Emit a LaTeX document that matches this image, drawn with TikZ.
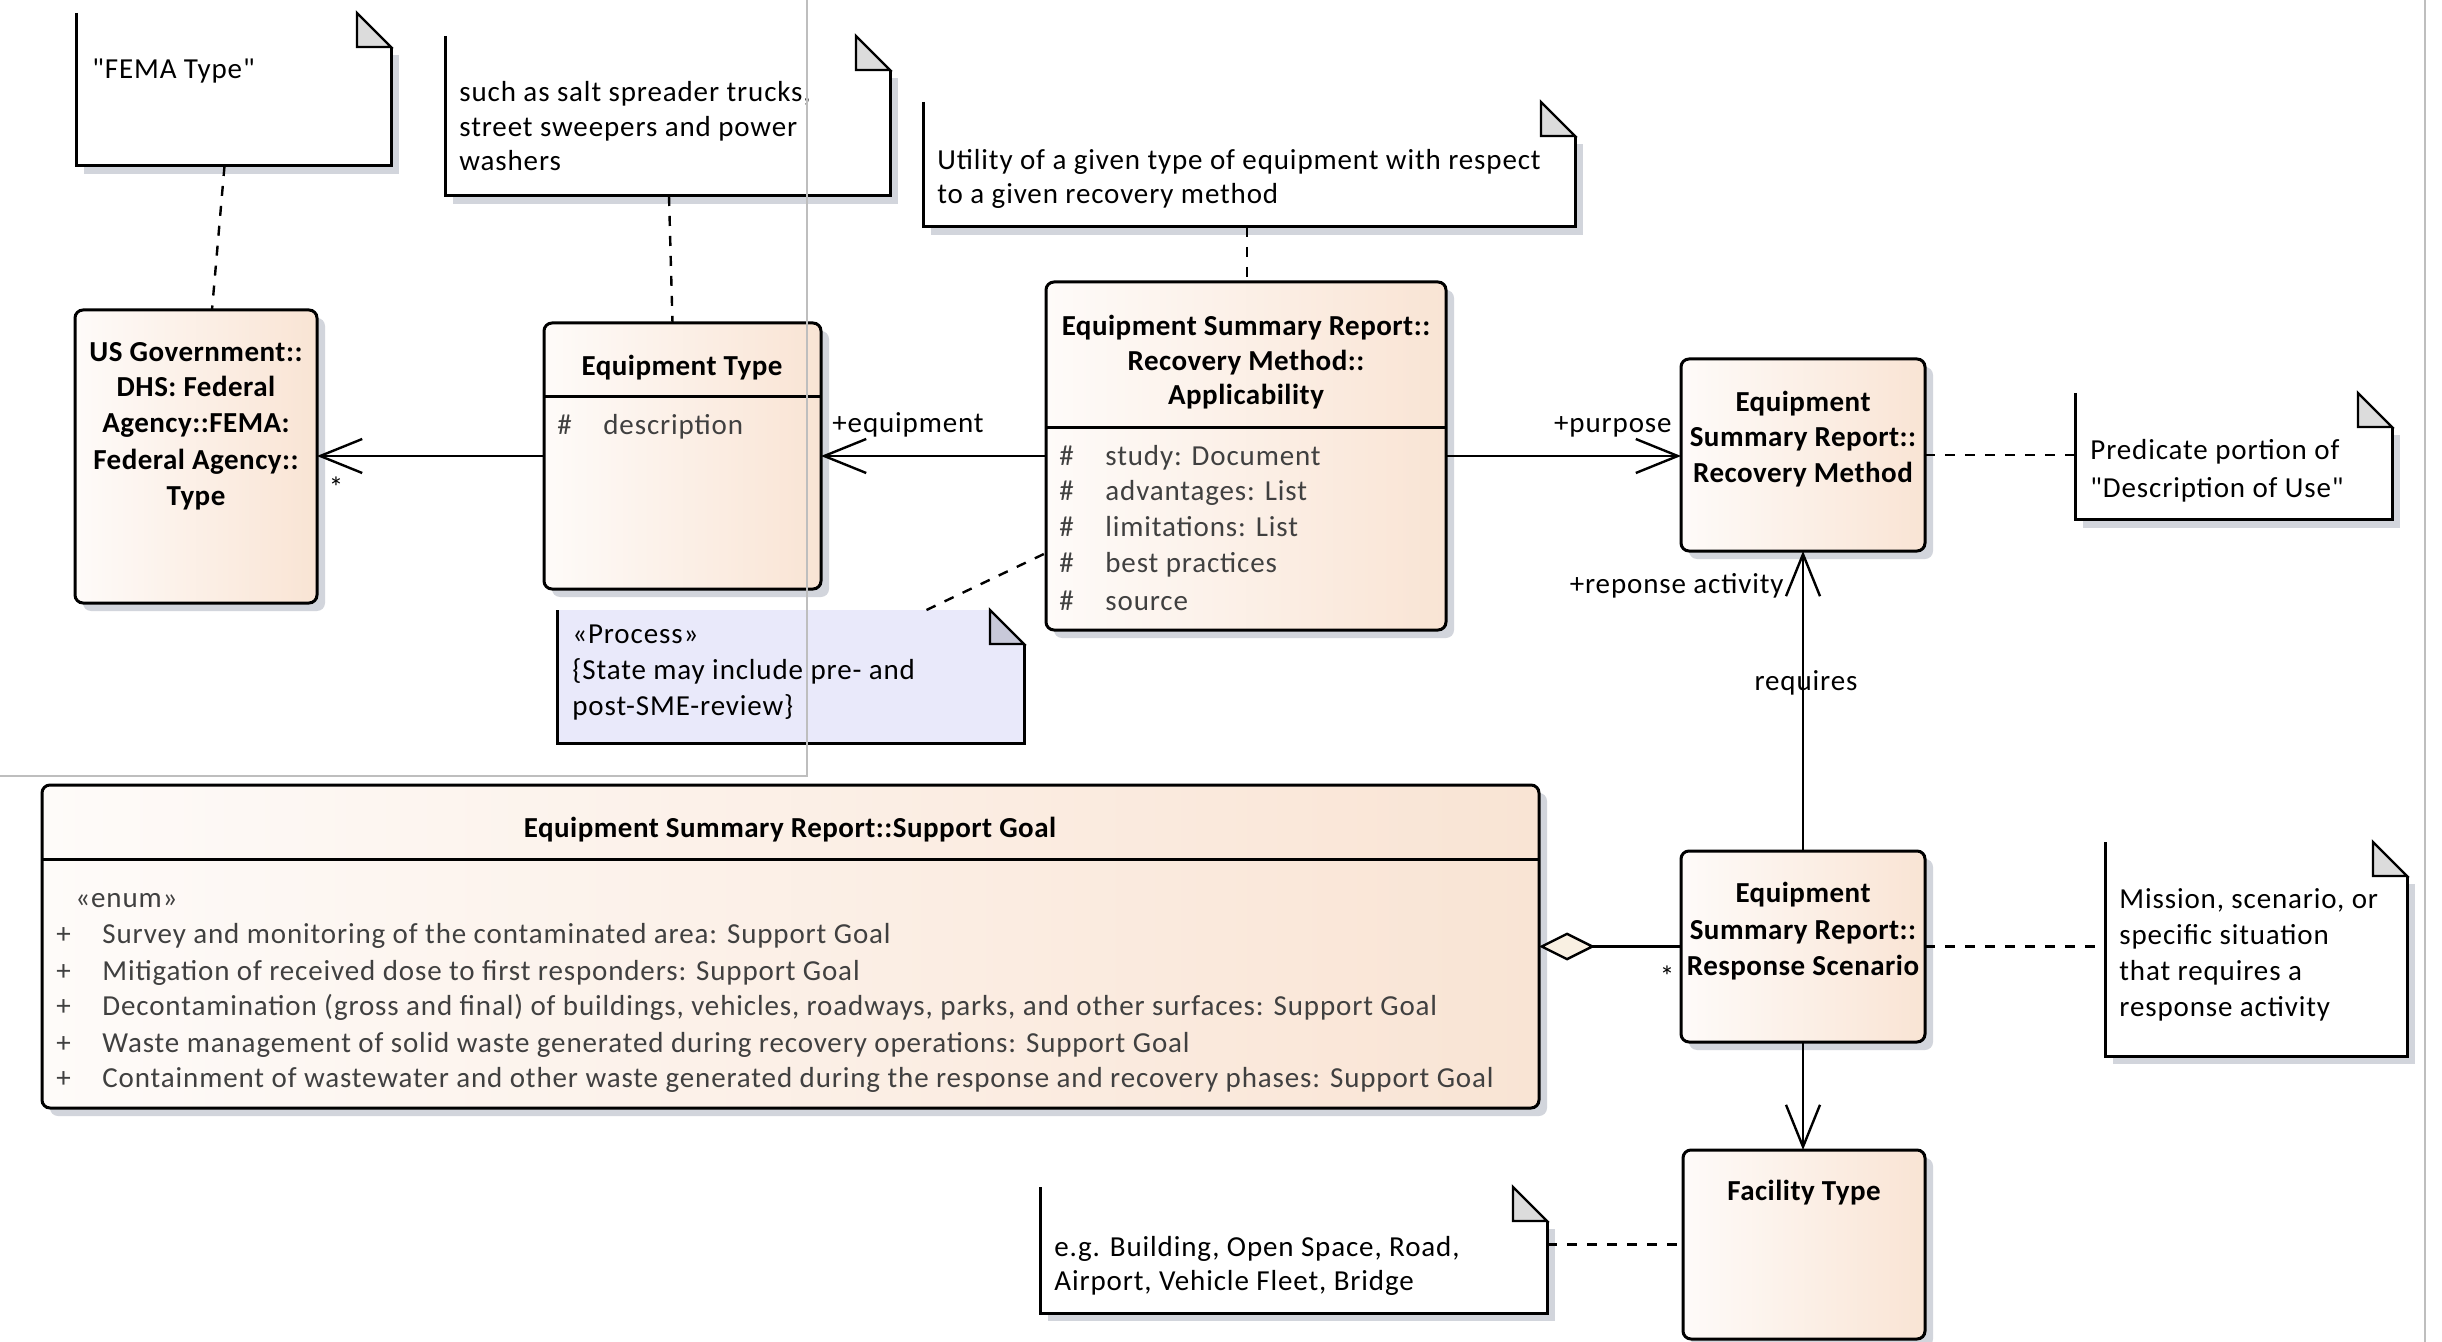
\documentclass[tikz,border=0pt]{standalone}
\usepackage{fontspec}
\setmainfont{Carlito}[Ligatures=TeXOff, LetterSpace=3, BoldFeatures={LetterSpace=1.7}]
\usetikzlibrary{arrows.meta,calc,shadows}
\definecolor{clsL}{RGB}{254,251,249}
\definecolor{clsR}{RGB}{249,228,212}
\definecolor{shad}{RGB}{210,213,220}
\definecolor{foldc}{RGB}{220,220,220}
\definecolor{procc}{RGB}{233,233,250}
\definecolor{procfold}{RGB}{200,201,217}
\definecolor{attrc}{RGB}{64,64,64}
\definecolor{framec}{RGB}{190,190,190}
\definecolor{diamc}{RGB}{249,240,226}
\tikzset{
 clsbox/.style={draw, line width=1.5pt, rounded corners=4pt, left color=clsL, right color=clsR, inner sep=0pt, outer sep=0pt, drop shadow={shadow xshift=4pt, shadow yshift=-4pt, fill=shad, opacity=1}},
 ttl/.style={font=\fontsize{14.5}{17.5}\selectfont\bfseries, anchor=base, inner sep=0pt},
 attr/.style={text=attrc, anchor=base west, inner sep=0pt},
 ntxt/.style={anchor=base west, inner sep=0pt},
 lbl/.style={inner sep=0pt},
 assoc/.style={line width=1.2pt, -{Straight Barb[length=21pt,width=17pt,line width=1.2pt]}},
 notelink/.style={line width=1.2pt, dash pattern=on 5pt off 5pt},
 divider/.style={line width=1.5pt},
}
\newcommand\clsnode[5]{%
  \node[clsbox, minimum width={(#4-#2)*0.5pt}, minimum height={(#5-#3)*0.5pt}] (#1) at ({(#2+#4)/2},{(#3+#5)/2}) {};}
\newcommand\notenode[5]{%
  \node[inner sep=0pt, outer sep=0pt, minimum width={(#4-#2)*0.5pt}, minimum height={(#5-#3)*0.5pt}] (#1) at ({(#2+#4)/2},{(#3+#5)/2}) {};}
\newcommand\notedraw[3]{%
  \fill[#2] (#1.north west) -- ($(#1.north east)+(-34,0)$) -- ($(#1.north east)+(0,34)$) -- (#1.south east) -- (#1.south west) -- cycle;
  \filldraw[fill=#3, draw=black, line width=1.2pt, line join=miter] ($(#1.north east)+(-34,0)$) -- ($(#1.north east)+(0,34)$) -- ($(#1.north east)+(-34,34)$) -- cycle;
  \draw[line width=1.5pt] (#1.north west) -- (#1.south west) -- (#1.south east) -- ($(#1.north east)+(0,34)$);}
\newcommand\noteshadow[1]{\fill[shad] ($(#1.north east)+(8,42)$) rectangle ($(#1.south west)+(8,8)$);}
\begin{document}
\begin{tikzpicture}[x=0.5pt,y=-0.5pt,font=\fontsize{14.5}{17.5}\selectfont]
\useasboundingbox (0,0) rectangle (2442,1342);
\fill[white] (0,0) rectangle (2442,1342);

% ---------- notes ----------
\notenode{femanote}{76}{13}{391}{166}
\notenode{eqnote}{445}{36}{890}{196}
\notenode{utilnote}{923}{102}{1575}{227}
\notenode{procnote}{557}{610}{1024}{743}
\notenode{prednote}{2075}{393}{2392}{520}
\notenode{missnote}{2105}{842}{2407}{1056}
\notenode{egnote}{1040}{1187}{1547}{1313}
\noteshadow{femanote}\noteshadow{eqnote}\noteshadow{utilnote}
\noteshadow{prednote}\noteshadow{missnote}\noteshadow{egnote}
\notedraw{femanote}{white}{foldc}
\notedraw{eqnote}{white}{foldc}
\notedraw{utilnote}{white}{foldc}
\notedraw{procnote}{procc}{procfold}
\notedraw{prednote}{white}{foldc}
\notedraw{missnote}{white}{foldc}
\notedraw{egnote}{white}{foldc}

\node[ntxt] (fema1) at (92,79) {"FEMA Type"};
\node[ntxt] (eqn1) at (459,102) {such as salt spreader trucks,};
\node[ntxt] (eqn2) at (459,137) {street sweepers and power};
\node[ntxt] (eqn3) at (459,171) {washers};
\node[ntxt] (util1) at (937,170) {Utility of a given type of equipment with respect};
\node[ntxt] (util2) at (937,204) {to a given recovery method};
\node[ntxt] (proc1) at (572,643) {«Process»};
\node[ntxt] (proc2) at (572,679) {\{State may include pre- and};
\node[ntxt] (proc3) at (572,715) {post-SME-review\}};
\node[ntxt] (pred1) at (2090,460) {Predicate portion of};
\node[ntxt] (pred2) at (2090,497) {"Description of Use"};
\node[ntxt] (miss1) at (2119,908) {Mission, scenario, or};
\node[ntxt] (miss2) at (2119,944) {specific situation};
\node[ntxt] (miss3) at (2119,980) {that requires a};
\node[ntxt] (miss4) at (2119,1016) {response activity};
\node[ntxt] (eg1) at (1054,1256) {e.g. Building, Open Space, Road,};
\node[ntxt] (eg2) at (1054,1290) {Airport, Vehicle Fleet, Bridge};

% ---------- classes ----------
\clsnode{usgov}{75}{310}{317}{603}
\clsnode{eqtype}{544}{323}{821}{589}
\clsnode{appl}{1046}{282}{1446}{630}
\clsnode{recov}{1681}{359}{1925}{551}
\clsnode{sgoal}{42}{785}{1539}{1108}
\clsnode{resp}{1681}{851}{1925}{1042}
\clsnode{fac}{1683}{1150}{1925}{1339}

\draw[divider] (eqtype.west |- 0,397) -- (eqtype.east |- 0,397);
\draw[divider] (appl.west |- 0,428) -- (appl.east |- 0,428);
\draw[divider] (sgoal.west |- 0,859) -- (sgoal.east |- 0,859);

\node[ttl] (usg1) at (196,362) {US Government::};
\node[ttl] (usg2) at (196,397) {DHS: Federal};
\node[ttl] (usg3) at (196,433) {Agency::FEMA:};
\node[ttl] (usg4) at (196,470) {Federal Agency::};
\node[ttl] (usg5) at (196,506) {Type};
\node[ttl] (eqt1) at (682,376) {Equipment Type};
\node[attr] (eqth) at (557,435) {\#};
\node[attr] (eqta) at (603,435) {description};

\node[ttl] (ap1) at (1246,336) {Equipment Summary Report::};
\node[ttl] (ap2) at (1246,371) {Recovery Method::};
\node[ttl] (ap3) at (1246,405) {Applicability};
\foreach \yy/\tt [count=\i] in {466/{study: Document},501/{advantages: List},537/{limitations: List},573/{best practices},610/{source}}{
  \node[attr] (aph\i) at (1059,\yy) {\#};
  \node[attr] (apa\i) at (1105,\yy) {\tt};
}

\node[ttl] (rc1) at (1803,412) {Equipment};
\node[ttl] (rc2) at (1803,447) {Summary Report::};
\node[ttl] (rc3) at (1803,483) {Recovery Method};

\node[ttl] (rs1) at (1803,902) {Equipment};
\node[ttl] (rs2) at (1803,939) {Summary Report::};
\node[ttl] (rs3) at (1803,975) {Response Scenario};

\node[ttl] (fc1) at (1804,1200) {Facility Type};

\node[ttl] (sg1) at (790,837) {Equipment Summary Report::Support Goal};
\node[attr] (sgen) at (75,907) {«enum»};
\foreach \yy/\tt [count=\i] in {943/{Survey and monitoring of the contaminated area: Support Goal},980/{Mitigation of received dose to first responders: Support Goal},1015/{Decontamination (gross and final) of buildings, vehicles, roadways, parks, and other surfaces: Support Goal},1052/{Waste management of solid waste generated during recovery operations: Support Goal},1087/{Containment of wastewater and other waste generated during the response and recovery phases: Support Goal}}{
  \node[attr] (sgp\i) at (56,\yy) {+};
  \node[attr] (sga\i) at (102,\yy) {\tt};
}

% ---------- connectors ----------
\draw[assoc] (eqtype.west) -- (usgov.east |- eqtype.west);
\draw[assoc] (appl.west) -- (eqtype.east |- appl.west);
\draw[assoc] (appl.east) -- (recov.west |- appl.east);
\draw[assoc] (resp.north) -- (recov.south -| resp.north);
\draw[assoc] (resp.south) -- (fac.north -| resp.south);
\draw[line width=1.2pt, {Diamond[length=28pt,width=14pt,fill=diamc,line width=1.2pt]}-] (sgoal.east |- resp.west) -- (resp.west);

\node[lbl, anchor=base west] (lequip) at (832,433) {+equipment};
\node[lbl, anchor=base east] (lpurp) at (1672,433) {+purpose};
\node[lbl, anchor=base east] (lresp) at (1784,593) {+reponse activity};
\node[lbl, anchor=base] (lreq) at (1806,690) {requires};
\node[lbl, anchor=base] (star1) at (336,497) {*};
\node[lbl, anchor=base] (star2) at (1667,986) {*};

\draw[notelink] ($(femanote.south)+(-9,0)$) -- ($(usgov.north)+(16,0)$);
\draw[notelink] ($(eqnote.south)+(1.5,0)$) -- ($(eqtype.north)+(-10,0)$);
\draw[notelink] ($(utilnote.south)+(-2,0)$) -- ($(appl.north)+(1,0)$);
\draw[notelink] ($(procnote.north)+(136,0)$) -- ($(appl.west)+(0,97)$);
\draw[notelink] (recov.east) -- (prednote.west |- recov.east);
\draw[notelink] (resp.east) -- (missnote.west |- resp.east);
\draw[notelink] (fac.west -| egnote.east) -- (fac.west);

% ---------- frame lines ----------
\draw[framec, line width=0.75pt] (807,0) -- (807,776) -- (0,776);
\draw[framec, line width=0.75pt] (2425,0) -- (2425,1342);
\end{tikzpicture}
\end{document}
